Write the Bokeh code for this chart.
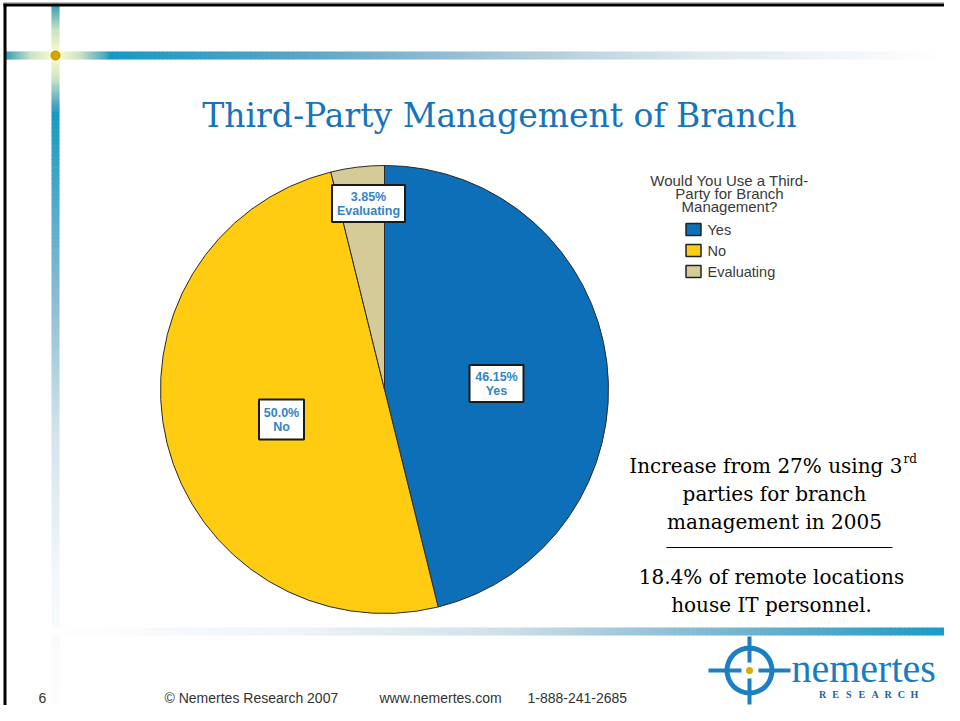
from bokeh.plotting import figure
from bokeh.models import Range1d
from bokeh.embed import file_html
from bokeh.resources import INLINE
from bokeh.core.properties import value
import numpy as np

# ---------------- data ----------------
categories = ["Yes", "No", "Evaluating"]
shares = [46.15, 50.0, 3.85]
share_labels = ["46.15%", "50.0%", "3.85%"]
slice_colors = ["#0E6FB9", "#FFCC11", "#D5CB98"]
legend_title = ["Would You Use a Third-", "Party for Branch", "Management?"]
title = "Third-Party Management of Branch"
note_lines = ["parties for branch", "management in 2005"]
note_first = "Increase from 27% using 3"
note_sup = "rd"
note2_lines = ["18.4% of remote locations", "house IT personnel."]
footer_page = "6"
footer_parts = ["\u00a9 Nemertes Research 2007", "www.nemertes.com", "1-888-241-2685"]

# ------------- helpers (reference pixel coords, y down) -------------
W, H = 944, 705

def Y(ry):
    return 721 - np.asarray(ry, dtype=float) if np.ndim(ry) else 721 - ry

def hex2rgb(h):
    h = h.lstrip("#")
    return np.array([int(h[i:i + 2], 16) for i in (0, 2, 4)], dtype=float)

def interp_colors(stops, ts):
    pos = np.array([s[0] for s in stops], dtype=float)
    cols = np.array([hex2rgb(s[1]) for s in stops])
    out = []
    for t in ts:
        c = [np.interp(t, pos, cols[:, k]) for k in range(3)]
        out.append("#%02x%02x%02x" % tuple(int(round(v)) for v in c))
    return out

p = figure(width=W, height=H, x_range=Range1d(0, W), y_range=Range1d(721 - H, 721),
           output_backend="svg", toolbar_location=None, min_border=0)
p.axis.visible = False
p.grid.visible = False
p.outline_line_color = None
p.background_fill_color = "white"
p.border_fill_color = "white"

def hgrad(x0, x1, y0, y1, stops, n):
    edges = np.linspace(x0, x1, n + 1)
    mids = (edges[:-1] + edges[1:]) / 2
    cols = interp_colors(stops, mids)
    p.quad(left=edges[:-1], right=edges[1:] + 0.7, top=[Y(y0)] * n, bottom=[Y(y1)] * n,
           fill_color=cols, line_color=None)

def vgrad(x0, x1, y0, y1, stops, n):
    edges = np.linspace(y0, y1, n + 1)
    mids = (edges[:-1] + edges[1:]) / 2
    cols = interp_colors(stops, mids)
    p.quad(left=[x0] * n, right=[x1] * n, top=Y(edges[:-1]) + 0.7, bottom=Y(edges[1:]),
           fill_color=cols, line_color=None)

# ------------- slide decoration -------------
glow = [(3, "#2a95ba"), (30, "#c9e2c4"), (55, "#ffffcc"), (80, "#c9e2c4"), (108, "#3a9dc2")]
hgrad(5, 108, 51, 59, glow, 60)
vgrad(51, 59, 4, 112, glow, 60)
hgrad(108, 944, 51, 59, [(108, "#1699c2"), (300, "#5aa5c6"), (500, "#a6c6d8"),
                         (700, "#dde8ef"), (880, "#f7f9fb"), (944, "#ffffff")], 200)
vgrad(51, 59, 112, 705, [(112, "#1699c2"), (300, "#8bbdd4"), (433, "#d3e3ec"),
                         (590, "#f6f9fb"), (705, "#fbfcfd")], 150)
hgrad(45, 944, 627, 635, [(45, "#ffffff"), (300, "#eef3f7"), (500, "#d0e0ea"),
                          (650, "#98c3d8"), (800, "#5aabcb"), (944, "#1a9bc4")], 200)
p.circle(x=[55], y=[Y(55)], radius=4.5, fill_color="#d9a400", line_color="#b58a00", line_width=1)

# slide frame
p.segment(x0=[4.5], y0=[Y(3)], x1=[4.5], y1=[Y(705)], line_color="black", line_width=3)
p.segment(x0=[3], y0=[Y(4.5)], x1=[944], y1=[Y(4.5)], line_color="black", line_width=3)
p.segment(x0=[3], y0=[Y(2.5)], x1=[944], y1=[Y(2.5)], line_color="#777777", line_width=1)

# ------------- title -------------
p.text(x=[499], y=[Y(115)], text=[title], text_font=value("DejaVu Serif"),
       text_font_size="33px", text_color="#1474BC", text_align="center",
       text_baseline="middle")

# ------------- pie -------------
cx, cy, R = 384, Y(389), 224
cum = np.concatenate([[0], np.cumsum(shares)])
a_start = 90 - cum[:-1] * 3.6
a_end = 90 - cum[1:] * 3.6
p.wedge(x=[cx] * 3, y=[cy] * 3, radius=R, start_angle=list(a_end), end_angle=list(a_start),
        start_angle_units="deg", end_angle_units="deg", direction="anticlock",
        fill_color=slice_colors, line_color="#2a2a2a", line_width=1)

# data labels (box centre positions in reference pixels)
box_pos = [(496, 383), (281, 419), (368, 203)]
box_w = [54, 45, 73]
box_h = [37, 40, 37]
for i in range(3):
    bx, by = box_pos[i]
    p.rect(x=[bx], y=[Y(by)], width=box_w[i], height=box_h[i], fill_color="white",
           line_color="#1a1a1a", line_width=2)
    p.text(x=[bx, bx], y=[Y(by - 7), Y(by + 7)], text=[share_labels[i], categories[i]],
           text_font=value("Liberation Sans"), text_font_style="bold", text_font_size="12.5px",
           text_color="#3483C6", text_align="center", text_baseline="middle")

# ------------- legend -------------
p.text(x=[729] * 3, y=[Y(180), Y(193), Y(206)], text=legend_title,
       text_font=value("Liberation Sans"), text_font_size="15px", text_color="#3a3a3a",
       text_align="center", text_baseline="middle")
leg_y = [229, 250, 271]
p.rect(x=[693] * 3, y=[Y(v) for v in leg_y], width=15, height=12, fill_color=slice_colors,
       line_color="#222222", line_width=1.5)
p.text(x=[707] * 3, y=[Y(v) for v in leg_y], text=categories,
       text_font=value("Liberation Sans"), text_font_size="14.5px", text_color="#3a3a3a",
       text_align="left", text_baseline="middle")

# ------------- notes -------------
serif = value("DejaVu Serif")
p.text(x=[902], y=[Y(465)], text=[note_first], text_font=serif, text_font_size="20px",
       text_color="black", text_align="right", text_baseline="middle")
p.text(x=[903], y=[Y(458)], text=[note_sup], text_font=serif, text_font_size="12px",
       text_color="black", text_align="left", text_baseline="middle")
p.text(x=[774, 774], y=[Y(493), Y(521)], text=note_lines, text_font=serif,
       text_font_size="20px", text_color="black", text_align="center",
       text_baseline="middle")
p.segment(x0=[666], y0=[Y(547)], x1=[892], y1=[Y(547)], line_color="black", line_width=1.2)
p.text(x=[771, 771], y=[Y(576), Y(604)], text=note2_lines, text_font=serif,
       text_font_size="20px", text_color="black", text_align="center",
       text_baseline="middle")

# ------------- footer -------------
fy = 697
p.text(x=[42], y=[Y(fy)], text=[footer_page], text_font=value("Liberation Sans"),
       text_font_size="14px", text_color="#333333", text_align="center", text_baseline="middle")
p.text(x=[164, 379, 527], y=[Y(fy)] * 3, text=footer_parts,
       text_font=value("Liberation Sans"), text_font_size="14px", text_color="#333333",
       text_align="left", text_baseline="middle")

# ------------- logo -------------
lx, ly = 749, Y(670)
logo_blue = "#1b7fc1"
p.annulus(x=[lx], y=[ly], inner_radius=20, outer_radius=25, fill_color=logo_blue, line_color=None)
p.segment(x0=[708, 758, lx, lx], y0=[ly, ly, ly + 34, ly - 8],
          x1=[741, 790, lx, lx], y1=[ly, ly, ly + 8, ly - 34],
          line_color=logo_blue, line_width=4)
p.circle(x=[lx], y=[ly], radius=3.5, fill_color="#e0a800", line_color=None)
p.text(x=[791], y=[Y(668)], text=["nemertes"], text_font=value("Liberation Serif"),
       text_font_size="40px", text_color="#1a7cc0", text_align="left",
       text_baseline="middle")
letters = list("RESEARCH")
p.text(x=list(np.linspace(822, 914, len(letters))), y=[Y(694)] * len(letters), text=letters,
       text_font=value("Liberation Serif"), text_font_style="bold", text_font_size="10px",
       text_color="#1a5f9e", text_align="center", text_baseline="middle")

open("out.html", "w").write(file_html(p, INLINE))
